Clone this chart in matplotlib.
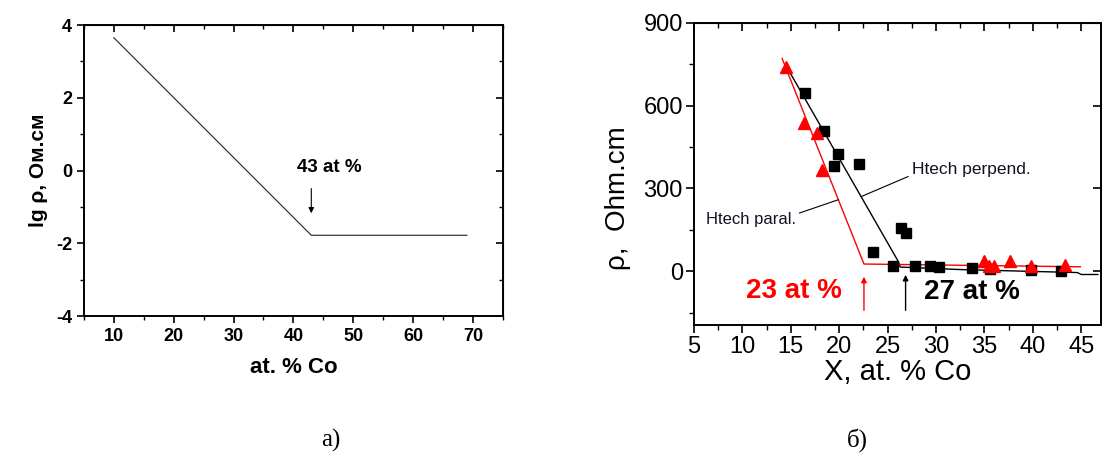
import matplotlib
matplotlib.use("Agg")
import matplotlib.pyplot as plt

plt.rcParams['font.family'] = ['Liberation Sans', 'DejaVu Sans']
plt.rcParams['axes.unicode_minus'] = False

# ---- panel a) : lg rho vs at.% Co
a_fit_x = [10, 43, 69]
a_fit_y = [3.65, -1.78, -1.78]

# ---- panel b) : rho vs X
sq_x = [16.5, 18.4, 19.9, 19.5, 22.0, 23.5, 25.6, 26.4, 26.9, 27.8, 29.4, 30.3, 33.7, 35.6, 39.8, 42.9]
sq_y = [647, 508, 425, 382, 389, 70, 18, 155, 139, 18, 18, 14, 12, 8, 6, 0]
tri_x = [14.5, 16.4, 17.7, 18.2, 35.0, 35.5, 36.0, 37.6, 39.8, 43.3]
tri_y = [741, 539, 500, 367, 36, 18, 18, 36, 18, 24]
red_fit_x = [14.1, 22.55, 44.9]
red_fit_y = [771, 26, 16]
blk_fit_x = [14.5, 26.1, 26.3, 32.4, 44.6, 45.0, 46.7]
blk_fit_y = [745, 35, 15, 6, -5, -12, -12]

fig = plt.figure(figsize=(11.02, 4.59), dpi=100)

# ================= panel a
ax1 = fig.add_axes([0.0762, 0.3115, 0.380, 0.634])
ax1.plot(a_fit_x, a_fit_y, color="#222222", lw=0.8)
ax1.set_xlim(5, 75)
ax1.set_ylim(-4, 4)
ax1.set_xticks([10, 20, 30, 40, 50, 60, 70])
ax1.set_xticks(range(5, 76, 5), minor=True)
ax1.set_yticks([-4, -2, 0, 2, 4])
ax1.set_yticks(range(-4, 5), minor=True)
for sp in ax1.spines.values():
    sp.set_linewidth(1.4)
ax1.tick_params(which="major", direction="out", length=5, width=1.2, labelsize=13)
ax1.tick_params(which="minor", direction="out", length=3, width=1.0)
for lab in ax1.get_xticklabels() + ax1.get_yticklabels():
    lab.set_fontweight("bold")
sx = ax1.secondary_xaxis("top")
sx.set_xticks([10, 20, 30, 40, 50, 60, 70])
sx.set_xticks(range(5, 76, 5), minor=True)
sx.tick_params(which="major", direction="in", length=5, width=1.2, labeltop=False)
sx.tick_params(which="minor", direction="in", length=3, width=1.0)
sy = ax1.secondary_yaxis("right")
sy.set_yticks([-4, -2, 0, 2, 4])
sy.set_yticks(range(-4, 5), minor=True)
sy.tick_params(which="major", direction="in", length=5, width=1.2, labelright=False)
sy.tick_params(which="minor", direction="in", length=3, width=1.0)
ax1.set_xlabel("at. % Co", fontsize=16, fontweight="bold", labelpad=9)
ax1.set_ylabel("lg ρ, Ом.см", fontsize=15, fontweight="bold", labelpad=6)
ax1.annotate("", xy=(43, -1.25), xytext=(43, -0.42),
             arrowprops=dict(arrowstyle="-|>", color="black", lw=0.8,
                             mutation_scale=8))
ax1.text(46.0, 0.07, "43 at %", fontsize=13.5, fontweight="bold", ha="center", va="center")

# ================= panel b
ax2 = fig.add_axes([0.6298, 0.292, 0.369, 0.658])
ax2.plot(blk_fit_x, blk_fit_y, color="black", lw=1.0, zorder=2)
ax2.plot(red_fit_x, red_fit_y, color="red", lw=1.0, zorder=2)
ax2.plot(sq_x, sq_y, ls="none", marker="s", ms=6.5, color="black", zorder=3)
ax2.plot(tri_x, tri_y, ls="none", marker="^", ms=8.5, color="red", zorder=4)
ax2.set_xlim(5, 47)
ax2.set_ylim(-195, 900)
ax2.set_xticks(range(5, 46, 5))
ax2.set_xticks([5 + 2.5 * i for i in range(17)], minor=True)
ax2.set_yticks([0, 300, 600, 900])
ax2.set_yticks([-150, 150, 450, 750], minor=True)
for sp in ax2.spines.values():
    sp.set_linewidth(1.4)
ax2.tick_params(which="major", direction="out", length=6, width=1.2, labelsize=17, pad=2)
ax2.tick_params(which="minor", direction="out", length=3.5, width=1.0)
sx2 = ax2.secondary_xaxis("top")
sx2.set_xticks(range(5, 46, 5))
sx2.set_xticks([5 + 2.5 * i for i in range(17)], minor=True)
sx2.tick_params(which="major", direction="in", length=6, width=1.2, labeltop=False)
sx2.tick_params(which="minor", direction="in", length=3.5, width=1.0)
sy2 = ax2.secondary_yaxis("right")
sy2.set_yticks([0, 300, 600, 900])
sy2.tick_params(which="major", direction="in", length=6, width=1.2, labelright=False)
ax2.set_xlabel("X, at. % Co", fontsize=21, labelpad=0)
ax2.set_ylabel("ρ,  Ohm.cm", fontsize=20)
ax2.yaxis.set_label_coords(-0.155, 0.42)

ax2.annotate("", xy=(22.55, -10), xytext=(22.55, -152),
             arrowprops=dict(arrowstyle="-|>", color="red", lw=1.0, mutation_scale=8))
ax2.annotate("", xy=(26.85, -3), xytext=(26.85, -152),
             arrowprops=dict(arrowstyle="-|>", color="black", lw=1.0, mutation_scale=8))
ax2.text(15.3, -72, "23 at %", color="red", fontsize=20, fontweight="bold",
         ha="center", va="center")
ax2.text(33.7, -75, "27 at %", color="black", fontsize=20, fontweight="bold",
         ha="center", va="center")

ax2.text(27.5, 367, "Htech perpend.", fontsize=12.5, ha="left", va="center", color="#111122")
ax2.plot([22.3, 27.1], [271, 343], color="black", lw=0.8)
ax2.text(6.2, 187, "Htech paral.", fontsize=12, ha="left", va="center", color="#111122")
ax2.plot([15.9, 19.9], [211, 259], color="black", lw=0.8)

# panel letters
fig.text(0.300, 0.041, "а)", fontsize=18, family="Liberation Serif", ha="center", va="center")
fig.text(0.778, 0.041, "б)", fontsize=18, family="Liberation Serif", ha="center", va="center")

fig.savefig("out.png", dpi=100)
